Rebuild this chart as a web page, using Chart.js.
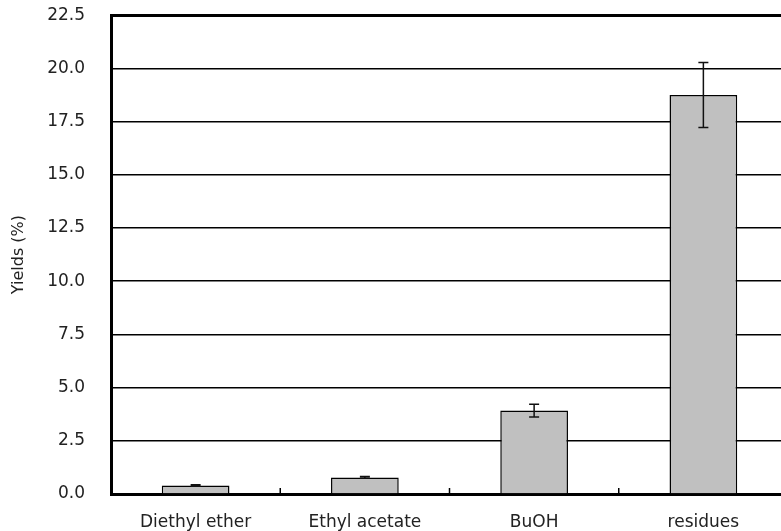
<!DOCTYPE html>
<html>
<head>
<meta charset="utf-8">
<script src="https://cdn.jsdelivr.net/npm/chart.js@4.4.0/dist/chart.umd.min.js"></script>
<style>
html,body{margin:0;padding:0;background:#fff;overflow:hidden;}
#wrap{width:789px;height:531px;position:relative;}
</style>
</head>
<body>
<div id="wrap"><canvas id="c"></canvas></div>
<script>
const categories = ['Diethyl ether', 'Ethyl acetate', 'BuOH', 'residues'];
const yields = [0.40, 0.78, 3.92, 18.75];
const yieldErrors = [0.03, 0.04, 0.30, 1.53];
const yTicks = [0, 2.5, 5, 7.5, 10, 12.5, 15, 17.5, 20, 22.5];

const FONT = '"DejaVu Sans", sans-serif';

const errorBars = {
  id: 'errorBars',
  afterDatasetsDraw(chart) {
    const ctx = chart.ctx;
    const meta = chart.getDatasetMeta(0);
    const y = chart.scales.y;
    ctx.save();
    ctx.strokeStyle = '#111';
    ctx.lineWidth = 1.5;
    meta.data.forEach((bar, i) => {
      const v = yields[i], e = yieldErrors[i];
      const yt = y.getPixelForValue(v + e), yb = y.getPixelForValue(v - e);
      ctx.beginPath();
      ctx.moveTo(bar.x, yt); ctx.lineTo(bar.x, yb);
      ctx.moveTo(bar.x - 5, yt); ctx.lineTo(bar.x + 5, yt);
      ctx.moveTo(bar.x - 5, yb); ctx.lineTo(bar.x + 5, yb);
      ctx.stroke();
    });
    ctx.restore();
  }
};

const innerTicks = {
  id: 'innerTicks',
  afterDatasetsDraw(chart) {
    const ctx = chart.ctx;
    const x = chart.scales.x;
    const bottom = chart.chartArea.bottom;
    ctx.save();
    ctx.strokeStyle = '#000';
    ctx.lineWidth = 1.5;
    for (let i = 0; i < categories.length - 1; i++) {
      const px = (x.getPixelForValue(i) + x.getPixelForValue(i + 1)) / 2;
      ctx.beginPath();
      ctx.moveTo(px, bottom);
      ctx.lineTo(px, bottom - 6);
      ctx.stroke();
    }
    ctx.restore();
  }
};

new Chart(document.getElementById('c'), {
  type: 'bar',
  data: {
    labels: categories,
    datasets: [{
      data: yields,
      backgroundColor: '#c0c0c0',
      borderColor: '#000',
      borderWidth: 1.5,
      categoryPercentage: 0.8,
      barPercentage: 0.5
    }]
  },
  options: {
    responsive: true,
    maintainAspectRatio: false,
    animation: false,
    layout: { padding: { left: 5, top: 0, right: 1, bottom: 0 } },
    plugins: { legend: { display: false }, tooltip: { enabled: false } },
    scales: {
      x: {
        grid: { display: false },
        border: { display: true, color: '#000', width: 3 },
        ticks: { color: '#222', font: { family: FONT, size: 17 }, padding: 10, maxRotation: 0 },
        afterFit(s) { s.height = 37; }
      },
      y: {
        min: 0,
        max: 22.5,
        afterBuildTicks(s) { s.ticks = yTicks.map(v => ({ value: v })); },
        ticks: {
          color: '#222',
          font: { family: FONT, size: 17 },
          padding: 5,
          callback: v => Number(v).toFixed(1)
        },
        grid: {
          color: '#000',
          lineWidth: c => (c.tick && c.tick.value === 22.5) ? 3 : 1.5,
          drawTicks: true,
          tickLength: 21,
          tickColor: 'rgba(0,0,0,0)'
        },
        border: { display: true, color: '#000', width: 3 },
        title: { display: true, text: 'Yields (%)', color: '#222', font: { family: FONT, size: 16 }, padding: { top: 4, bottom: 0 } },
        afterFit(s) { s.width = 106; }
      }
    }
  },
  plugins: [errorBars, innerTicks]
});
</script>
</body>
</html>
